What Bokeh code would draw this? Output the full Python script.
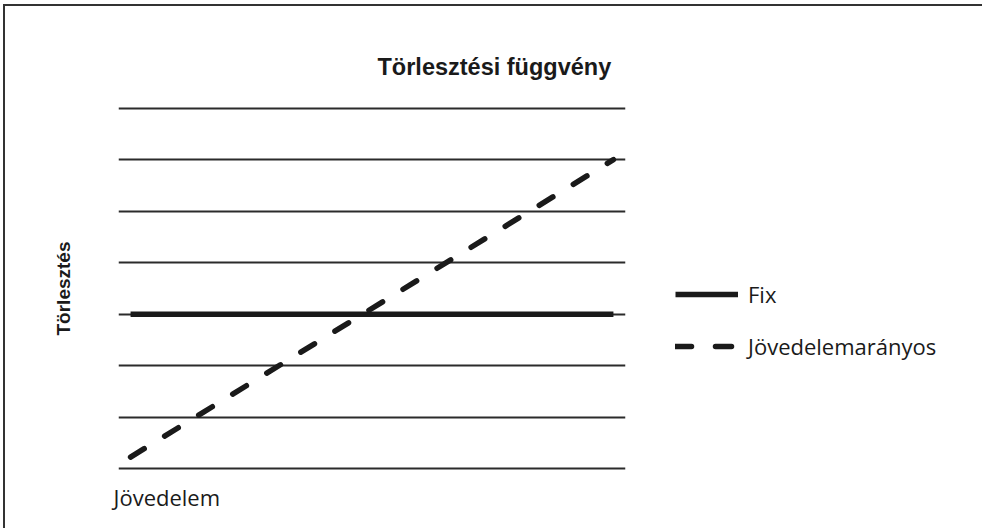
from bokeh.plotting import figure
from bokeh.layouts import column
from bokeh.models import (Range1d, Grid, FixedTicker, Legend, LegendItem, Title,
                          LinearAxis)
from bokeh.embed import file_html
from bokeh.resources import INLINE

# ---- data ----
title_text = "Törlesztési függvény"
y_label = "Törlesztés"
x_label = "Jövedelem"
grid_levels = [0, 1, 2, 3, 4, 5, 6, 7]
income = [1, 41]
fix_values = [3, 3]
proportional_values = [0.23, 6.0]
series_names = ["Fix", "Jövedelemarányos"]

INK = "#1a1a1a"
GRID = "#2b2b2b"

p = figure(frame_width=507, frame_height=364, output_backend="svg",
           toolbar_location=None,
           x_range=Range1d(0, 42), y_range=Range1d(-0.03, 7.03),
           x_axis_type=None, y_axis_type=None,
           min_border_left=113, min_border_right=340,
           min_border_top=100, min_border_bottom=58)
p.outline_line_color = None
p.background_fill_color = "white"
p.border_fill_color = "white"

grid = Grid(dimension=1, ticker=FixedTicker(ticks=grid_levels),
            grid_line_color=GRID, grid_line_width=2)
p.add_layout(grid)

r_fix = p.line(income, fix_values, line_color=INK, line_width=5.5, line_cap="butt")
r_prop = p.line(income, proportional_values, line_color=INK, line_width=5.5,
                line_dash="16 24", line_cap="round")

# y-axis label via an invisible axis
yax = LinearAxis(ticker=FixedTicker(ticks=[]), axis_line_color=None,
                 major_tick_line_color=None, minor_tick_line_color=None,
                 major_tick_out=0, major_tick_in=0, major_label_standoff=0,
                 axis_label=y_label, axis_label_standoff=45,
                 axis_label_text_font="Liberation Sans",
                 axis_label_text_font_style="bold",
                 axis_label_text_font_size="19px", axis_label_text_color=INK)
p.add_layout(yax, "left")

p.add_layout(Title(text=title_text, align="left", offset=259, standoff=53,
                   text_font="Liberation Sans", text_font_style="bold",
                   text_font_size="23.5px", text_color=INK), "above")
p.add_layout(Title(text=x_label, align="left", offset=-5, standoff=19,
                   text_font="Open Sans", text_font_style="normal",
                   text_font_size="22px", text_color=INK), "below")

legend = Legend(items=[LegendItem(label=series_names[0], renderers=[r_fix]),
                       LegendItem(label=series_names[1], renderers=[r_prop])],
                location=(50, 108), orientation="vertical",
                glyph_width=63, glyph_height=32, label_height=32, spacing=20,
                label_standoff=10, padding=0, margin=0,
                border_line_alpha=0, background_fill_alpha=0,
                label_text_font="Open Sans", label_text_font_size="22px",
                label_text_color=INK)
p.add_layout(legend, "right")

layout = column(p, styles={"border-top": "2px solid #333333",
                           "border-left": "2px solid #333333",
                           "margin-top": "4px", "margin-left": "3px"})

open("out.html", "w").write(file_html(layout, INLINE))
